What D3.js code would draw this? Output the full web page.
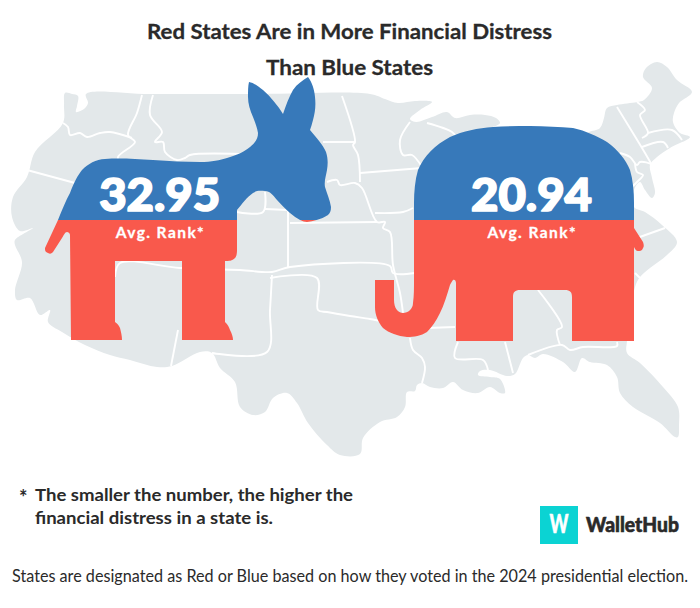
<!DOCTYPE html>
<html><head><meta charset="utf-8">
<script src="https://cdn.jsdelivr.net/npm/d3@7/dist/d3.min.js"></script>
<style>html,body{margin:0;padding:0;background:#fff}svg{display:block}text{font-family:Lato,"Open Sans",sans-serif}</style>
</head><body><svg id="c" width="700" height="608"></svg>
<script>
// ---- data ----
const parties = ["Blue", "Red"];
const avgRank = [32.95, 20.94];
const rankLabel = "Avg. Rank*";
const titleLines = ["Red States Are in More Financial Distress", "Than Blue States"];
const noteLines = ["The smaller the number, the higher the", "financial distress in a state is."];
const sourceText = "States are designated as Red or Blue based on how they voted in the 2024 presidential election.";

// ---- colours ----
const BLUE = "#3779ba", RED = "#f9594c", MAP = "#e3e8ea", INK = "#2a2a2a";

// ---- base map geometry (decorative backdrop) ----
const outline = [[65,93],[72,94],[78,96],[77,106],[76,112],[84,109],[88,103],[86,94],[150,94],[260,94],[370,94],[385,99],[398,103],[415,101],[432,102],[420,110],[410,119],[416,122],[432,117],[447,112],[455,118],[470,115],[485,115],[496,118],[500,123],[485,130],[470,138],[480,170],[540,170],[587,133],[600,128],[604,118],[607,108],[617,105],[637,102],[644,100],[652,88],[643,77],[646,68],[657,62],[667,67],[677,80],[692,92],[679,103],[674,113],[673,122],[680,133],[690,137],[670,148],[657,157],[650,165],[652,178],[655,193],[652,198],[645,190],[640,182],[634,190],[634,207],[645,212],[662,225],[677,242],[667,255],[650,268],[640,277],[635,287],[630,320],[627,341],[627,353],[640,363],[663,387],[678,407],[679,425],[678,437],[675,437],[660,423],[633,407],[620,393],[617,377],[607,365],[590,362],[582,358],[575,372],[563,362],[543,354],[535,358],[528,355],[523,358],[515,374],[507,376],[490,370],[480,371],[478,375],[490,377],[500,379],[505,393],[500,393],[490,387],[478,393],[463,390],[453,382],[443,388],[430,387],[422,383],[417,385],[415,391],[407,392],[405,407],[397,417],[380,422],[363,438],[360,454],[340,455],[327,445],[308,423],[297,403],[287,393],[273,398],[265,412],[253,415],[240,407],[235,382],[220,368],[212,353],[200,352],[172,366],[157,367],[130,360],[110,355],[85,345],[62,332],[48,322],[50,310],[40,315],[30,298],[17,300],[15,290],[22,262],[15,245],[15,240],[33,228],[20,231],[12,217],[13,197],[27,177],[35,152],[63,123],[64,105]];

const borders = [
 [[63,123],[68,127],[70,135],[80,133],[87,137],[100,133],[110,132],[132,138]],
 [[142,95],[137,113],[128,135],[135,142],[118,157],[120,165]],
 [[153,95],[150,115],[162,132],[155,142],[163,142],[165,152],[177,160],[185,158],[190,155],[240,154]],
 [[27,170],[75,183]],
 [[115,277],[120,263],[180,268],[240,270],[272,272],[290,267],[390,266],[393,273],[415,273]],
 [[178,330],[171,366]],
 [[272,275],[270,310],[267,352],[212,353]],
 [[270,278],[317,278],[318,310],[327,312],[350,316],[370,319],[385,322]],
 [[410,338],[413,350],[422,358],[425,367],[422,383]],
 [[458,342],[455,358],[483,360],[488,370]],
 [[505,342],[513,373]],
 [[528,355],[562,345],[570,350],[583,347],[617,346],[617,342]],
 [[538,290],[562,327],[557,330],[560,345]],
 [[427,328],[455,327]],
 [[637,238],[665,228]],
 [[635,273],[640,278]],
 [[617,107],[645,153],[653,167]],
 [[637,102],[645,110],[640,115],[648,133],[642,138]],
 [[648,133],[672,130],[682,140]],
 [[642,147],[663,142],[668,148]],
 [[652,163],[668,157]],
 [[620,153],[630,157],[637,165],[640,162],[652,165],[653,173]],
 [[635,163],[637,172],[643,175],[637,182],[632,187]],
 [[342,96],[355,142],[353,145],[358,155],[360,182]],
 [[323,142],[355,142]],
 [[360,173],[422,168]],
 [[327,182],[337,180],[340,185],[355,183],[362,188],[377,222],[385,222],[383,228],[390,232],[393,265],[400,293],[403,313]],
 [[290,223],[377,222]],
 [[237,212],[263,212],[265,192]],
 [[265,209],[288,210]],
 [[288,210],[288,267]],
 [[375,213],[403,212],[413,208]],
 [[410,122],[400,140],[403,155],[412,155],[422,167]],
 [[427,123],[452,132],[457,138]]
];

// ---- silhouettes ----
const donkeyPath = "M45,248 L58,220 C62,210 66,200 70,193 C74,182 78,175 82,170 C88,164 96,159 105,159 C120,158 135,159 153,160 C170,161 185,162 200,162 C212,162 220,160 227,158 C238,155 245,151 250,147 C256,142 258,138 258,133 C257,127 255,122 253,117 C250,110 248,104 248,97 C248,91 248,86 249,82 C254,83 258,86 263,90 C271,97 278,106 283,114 C286,105 289,97 293,90 C297,84 303,80 308,77 C312,82 314.5,90 315,97 C316,106 315,113 313,120 C312,124 311,127 310,130 C316,137 323,145 326,152 C328,158 328,164 327,170 C326,176 324,181 325,187 C327,194 330,200 331,207 C331,211 330,213 328,215 C322,219 314,221 307,222 C302,222 296,218 290,213 C285,209 281,204 277,200 C273,195 270,191 265,191 C261,191 257,190 253,193 C247,197 242,204 237,210 L237,250 C237,255 236,257 235,258 C232,261 229,261 225,261 L225,322 C228,325 229,327 230,330 C232,334 233,337 233,340 L182,340 L182,261 L115,261 L115,322 C118,324 119,326 120,328 C121,332 122,336 122,340 L71,340 L70,235 C70,233 68,232 67,232 C65,232 64,235 62,238 L53,252 C51,254 50,254 48,253 C45,252 45,250 45,248 Z";
const elephantPath = "M414,203 C414,192 415,180 418,170 C424,156 435,145 450,137 C463,131 478,128 493,127 C505,126 518,126 530,126 C545,126 560,127 573,128 C586,131 597,136 607,142 C618,150 626,160 630,170 C633,180 634,192 634,203 L634,228 L643,242 C644,245 644,247 643,248 C642,251 640,251 638,251 C636,251 635,249 634,247 L634,341 L572,341 L572,297 C572,292 570,290 565,290 L520,290 C515,290 513,292 513,297 L513,341 L456,341 L456,283 C456,280 454,279 453,280 C452,281 451,283 450,285 C447,295 444,305 440,313 C436,321 432,327 427,332 C421,336 414,337 407,337 C398,336 389,333 383,328 C378,322 375,315 375,307 L375,280 L394,280 L394,300 C394,308 398,313 403,313 C408,313 413,309 413,303 C414,296 414,288 414,280 Z";

// ---- drawing ----
const svg = d3.select("#c");
const lineGen = d3.line().curve(d3.curveCatmullRom.alpha(0.5));
const mapG = svg.append("g");
mapG.append("path").attr("d", lineGen.curve(d3.curveCatmullRomClosed.alpha(0.5))(outline)).attr("fill", MAP);
lineGen.curve(d3.curveCatmullRom.alpha(0.5));
mapG.selectAll("path.b").data(borders).join("path").attr("class","b")
  .attr("d", lineGen).attr("fill","none").attr("stroke","#fff").attr("stroke-width",1.9).attr("stroke-linejoin","round");

const splitY = 220;
const defs = svg.append("defs");
defs.append("clipPath").attr("id","top").append("rect").attr("x",0).attr("y",0).attr("width",700).attr("height",splitY);
defs.append("clipPath").attr("id","bottom").append("rect").attr("x",0).attr("y",splitY).attr("width",700).attr("height",608-splitY);

const silhouettes = [donkeyPath, elephantPath];
silhouettes.forEach(d => {
  svg.append("path").attr("d",d).attr("fill",BLUE).attr("clip-path","url(#top)");
  svg.append("path").attr("d",d).attr("fill",RED).attr("clip-path","url(#bottom)");
});

const x = d3.scalePoint().domain(parties).range([159.7, 531.5]);
const g = svg.selectAll("g.p").data(parties).join("g").attr("class","p");
g.append("text").attr("x", d => x(d)).attr("y", 210.5).attr("text-anchor","middle")
  .attr("font-size", 45.5).attr("font-weight", 900).attr("fill","#fff")
  .attr("textLength", 121).attr("lengthAdjust","spacingAndGlyphs")
  .attr("stroke","#fff").attr("stroke-width",1.7).attr("stroke-linejoin","round")
  .text((d,i) => avgRank[i].toFixed(2));
g.append("text").attr("x", d => x(d)).attr("y", 238).attr("text-anchor","middle")
  .attr("font-size", 15.5).attr("font-weight", 700).attr("fill","#fff")
  .attr("stroke","#fff").attr("stroke-width",0.3)
  .attr("textLength", 88).text(rankLabel);

svg.selectAll("text.t").data(titleLines).join("text").attr("class","t")
  .attr("x", 349.5).attr("y",(d,i)=>39+i*36).attr("text-anchor","middle")
  .attr("font-size",21.5).attr("font-weight",700).attr("fill",INK)
  .attr("stroke",INK).attr("stroke-width",0.3)
  .attr("textLength",(d,i)=>[405,167][i]).attr("lengthAdjust","spacingAndGlyphs").text(d=>d);

svg.append("text").attr("x",19).attr("y",505).attr("font-size",20).attr("font-weight",700).attr("fill",INK).text("*");
svg.selectAll("text.n").data(noteLines).join("text").attr("class","n")
  .attr("x",35).attr("y",(d,i)=>501+i*23).attr("font-size",17).attr("font-weight",700).attr("fill",INK)
  .attr("textLength",(d,i)=>[318,238][i]).attr("lengthAdjust","spacingAndGlyphs").text(d=>d);
svg.append("text").attr("x",12).attr("y",582).attr("font-size",16.3).attr("fill",INK)
  .attr("textLength",676).attr("lengthAdjust","spacingAndGlyphs").text(sourceText);

// logo
svg.append("rect").attr("x",540).attr("y",506).attr("width",38).attr("height",38).attr("fill","#0bd3d3");
svg.append("text").attr("x",559).attr("y",533).attr("text-anchor","middle").attr("font-size",26).attr("font-weight",900)
  .attr("fill","#fff").attr("stroke","#fff").attr("stroke-width",0.5).attr("textLength",19).attr("lengthAdjust","spacingAndGlyphs").text("W");
svg.append("text").attr("x",586).attr("y",532).attr("font-size",21).attr("font-weight",900)
  .attr("fill",INK).attr("stroke",INK).attr("stroke-width",0.6).attr("textLength",93).attr("lengthAdjust","spacingAndGlyphs").text("WalletHub");
</script></body></html>
